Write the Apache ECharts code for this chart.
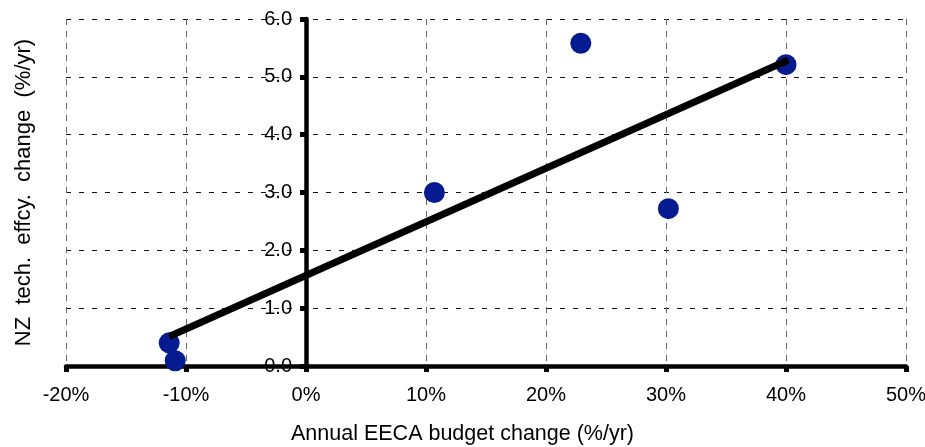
<!DOCTYPE html>
<html>
<head>
<meta charset="utf-8">
<script src="https://cdn.jsdelivr.net/npm/echarts@6/dist/echarts.min.js"></script>
<style>
  html, body {margin: 0; padding: 0; background: #fff;}
  #chart {width: 925px; height: 447px;}
</style>
</head>
<body>
<div id="chart"></div>
<script>
// budget change (%/yr) vs tech efficiency change (%/yr)
var budgetChange = [-11.4, -10.9, 10.7, 22.9, 30.2, 40.0];
var effcyChange = [0.40, 0.09, 3.0, 5.58, 2.72, 5.21];
// fitted trend line ends
var trendX = [-11.4, 40.2];
var trendY = [0.51, 5.29];

var xTicks = {min: -20, max: 50, step: 10};
var yTicks = {min: 0, max: 6, step: 1};

var font = 'Liberation Sans, Arial, sans-serif';

var myChart = echarts.init(document.getElementById('chart'));

var points = budgetChange.map(function (x, i) { return [x, effcyChange[i]]; });
var trend = trendX.map(function (x, i) { return [x, trendY[i]]; });

// the y axis sits on x = 0, which is 240px right of the grid's left edge
var yAxisShift = -240;

myChart.setOption({
  animation: false,
  grid: {left: 66, right: 19, top: 19, bottom: 81, containLabel: false, outerBoundsMode: 'none'},
  xAxis: {
    type: 'value',
    min: xTicks.min,
    max: xTicks.max,
    interval: xTicks.step,
    name: 'Annual EECA budget change (%/yr)',
    nameLocation: 'middle',
    nameGap: 57,
    nameTextStyle: {color: '#000', fontFamily: font, fontSize: 21.5, padding: [0, 47, 0, 0]},
    axisLine: {onZero: false, lineStyle: {color: '#000', width: 4.5}},
    axisTick: {show: true, length: 6, lineStyle: {color: '#000', width: 5}},
    axisLabel: {
      color: '#000', fontFamily: font, fontSize: 20, margin: 19,
      formatter: function (v) { return v + '%'; }
    },
    splitLine: {show: true, lineStyle: {color: '#666', width: 1, type: [6, 6]}}
  },
  yAxis: {
    type: 'value',
    min: yTicks.min,
    max: yTicks.max,
    interval: yTicks.step,
    offset: yAxisShift,
    name: 'NZ  tech.  effcy.  change  (%/yr)',
    nameLocation: 'middle',
    nameGap: 271,
    nameTextStyle: {color: '#000', fontFamily: font, fontSize: 22},
    axisLine: {onZero: false, lineStyle: {color: '#000', width: 4.5}},
    axisTick: {show: true, length: 6, lineStyle: {color: '#000', width: 5}},
    axisLabel: {
      color: '#000', fontFamily: font, fontSize: 20, margin: 14,
      formatter: function (v) { return v.toFixed(1); }
    },
    splitLine: {show: true, lineStyle: {color: '#111', width: 1, type: [5, 8]}}
  },
  series: [
    {
      type: 'scatter',
      data: points,
      symbol: 'circle',
      symbolSize: 21,
      itemStyle: {color: '#061b8f', opacity: 1}
    },
    {
      type: 'line',
      data: trend,
      showSymbol: false,
      symbol: 'none',
      lineStyle: {color: '#000', width: 7, cap: 'butt'}
    }
  ]
});
</script>
</body>
</html>
